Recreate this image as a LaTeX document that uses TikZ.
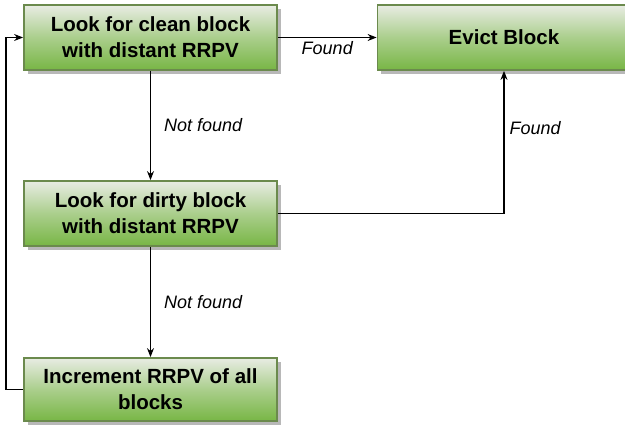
\documentclass[tikz,border=0pt]{standalone}
\usepackage{fontspec}
\setmainfont{Liberation Sans}
\usetikzlibrary{shadows,arrows.meta}
\definecolor{boxtop}{HTML}{E8ECE3}
\definecolor{boxbot}{HTML}{78B645}
\definecolor{boxline}{HTML}{6B8A4D}
\definecolor{shadowgray}{HTML}{B8B8B8}
\begin{document}
\begin{tikzpicture}[x=1pt,y=-1pt,
  stepbox/.style={rectangle, draw=boxline, line width=1.8pt,
    top color=boxtop, bottom color=boxbot, middle color=boxtop!45!boxbot,
    minimum width=253pt, minimum height=65pt, inner sep=0pt,
    align=center, font=\fontsize{20.5}{26}\selectfont\bfseries,
    drop shadow={shadow xshift=3.5pt, shadow yshift=-3.5pt, fill=shadowgray, opacity=1}},
  link/.style={line width=1.1pt, -{Stealth[length=9pt,width=7pt]}},
  lbl/.style={font=\fontsize{18}{22}\selectfont\itshape, inner sep=0pt}]
  \useasboundingbox (0,0) rectangle (625,424);

  \node[stepbox] (clean) at (150.5,37.5) {Look for clean block\\with distant RRPV};
  \node[stepbox] (evict) at (504,37.5) {Evict Block};
  \node[stepbox] (dirty) at (150.5,213.5) {Look for dirty block\\with distant RRPV};
  \node[stepbox, minimum height=63pt] (incr) at (150.5,389.5) {Increment RRPV of all\\blocks};

  \coordinate (back) at (6,389.5);

  \draw[link] (clean) -- (evict) node[lbl, pos=0.5, below=3pt] {Found};
  \draw[link] (clean) -- (dirty) node[lbl, pos=0.5, right=13pt] {Not found};
  \draw[link] (dirty) -| (evict) node[lbl, pos=0.8, right=5pt] {Found};
  \draw[link] (dirty) -- (incr) node[lbl, pos=0.5, right=13pt] {Not found};
  \draw[link] (incr.west) -- (back) |- (clean.west);
\end{tikzpicture}
\end{document}
